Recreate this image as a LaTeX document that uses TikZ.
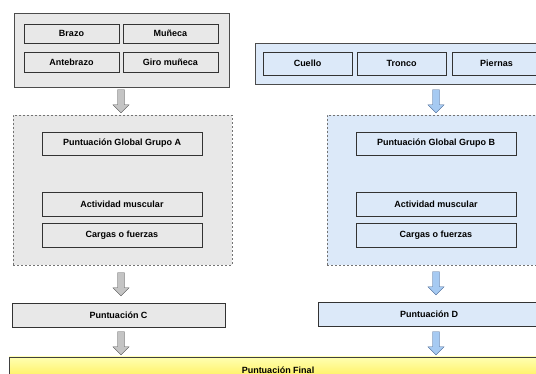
\documentclass[tikz,border=0pt]{standalone}
\usepackage{fontspec}
\setmainfont{Liberation Sans}
\definecolor{grisfondo}{HTML}{E8E8E8}
\definecolor{azulfondo}{HTML}{DCE9F9}
\definecolor{grisflecha}{HTML}{C4C4C4}
\definecolor{azulflecha}{HTML}{A6CAF2}
\definecolor{bordeazul}{HTML}{3F5F8F}

\begin{document}
\begin{tikzpicture}[x=1pt,y=-1pt,
    every node/.style={font=\bfseries\fontsize{9}{10}\selectfont, inner sep=0pt},
    caja/.style={draw=black!80, minimum width=#1},
    grupo/.style={draw=black!70},
    punteada/.style={draw=black!55, dash pattern=on 2pt off 2pt},
    flecha/.pic={\draw[pic actions] (-3.5,-23) -- (-3.5,-8) -- (-8,-8) -- (0,0) -- (8,-8) -- (3.5,-8) -- (3.5,-23) -- cycle;}]
    \clip (0,0) rectangle (536,374);
    \fill[white] (0,0) rectangle (536,374);

    \node[grupo, fill=grisfondo, minimum width=215pt, minimum height=74pt] (grupoA) at (121.5,50) {};
    \node[caja=95pt, minimum height=19pt, fill=grisfondo] (brazo) at (71.5,33.5) {Brazo};
    \node[caja=95pt, minimum height=19pt, fill=grisfondo] (muneca) at (170.5,33.5) {Muñeca};
    \node[caja=95pt, minimum height=20pt, fill=grisfondo] (antebrazo) at (71.5,62) {Antebrazo};
    \node[caja=95pt, minimum height=20pt, fill=grisfondo] (giro) at (170.5,62) {Giro muñeca};

    \node[grupo, fill=azulfondo, minimum width=294pt, minimum height=41pt] (grupoB) at (402,63.5) {};
    \node[caja=89pt, minimum height=23pt, fill=azulfondo] (cuello) at (307.5,63.5) {Cuello};
    \node[caja=89pt, minimum height=23pt, fill=azulfondo] (tronco) at (401.5,63.5) {Tronco};
    \node[caja=89pt, minimum height=23pt, fill=azulfondo] (piernas) at (496.5,63.5) {Piernas};

    \node[punteada, fill=grisfondo, minimum width=219pt, minimum height=150pt] (tablaA) at (122.5,190) {};
    \node[caja=160pt, minimum height=23pt, fill=grisfondo] (globalA) at (122,143.5) {Puntuación Global Grupo A};
    \node[caja=160pt, minimum height=24pt, fill=grisfondo] (actA) at (122,204) {Actividad muscular};
    \node[caja=160pt, minimum height=24pt, fill=grisfondo] (cargasA) at (122,235) {Cargas o fuerzas};

    \node[punteada, fill=azulfondo, minimum width=219pt, minimum height=150pt] (tablaB) at (436.5,190) {};
    \node[caja=160pt, minimum height=23pt, fill=azulfondo] (globalB) at (436,143.5) {Puntuación Global Grupo B};
    \node[caja=160pt, minimum height=24pt, fill=azulfondo] (actB) at (436,204) {Actividad muscular};
    \node[caja=160pt, minimum height=24pt, fill=azulfondo] (cargasB) at (436,235) {Cargas o fuerzas};

    \node[caja=213pt, minimum height=24pt, fill=grisfondo] (puntC) at (118.5,315) {Puntuación C};
    \node[caja=222pt, minimum height=24pt, fill=azulfondo] (puntD) at (429,314) {Puntuación D};

    \node[draw=black!75, top color=yellow!30!white, bottom color=yellow!80!orange!75, minimum width=538pt, minimum height=28pt] (final) at (278,371) {\raisebox{2pt}{Puntuación Final}};

    \path (tablaA.north -| 121,0) ++(0,-2) pic[fill=grisflecha, draw=black!70] {flecha};
    \path (puntC.north -| 121,0) ++(0,-7) pic[fill=grisflecha, draw=black!70] {flecha};
    \path (final.north -| 121,0) ++(0,-2) pic[fill=grisflecha, draw=black!70] {flecha};
    \path (tablaB.north -| 436,0) ++(0,-2) pic[fill=azulflecha, draw=bordeazul] {flecha};
    \path (puntD.north -| 436,0) ++(0,-7) pic[fill=azulflecha, draw=bordeazul] {flecha};
    \path (final.north -| 436,0) ++(0,-2) pic[fill=azulflecha, draw=bordeazul] {flecha};
  \end{tikzpicture}
\end{document}
